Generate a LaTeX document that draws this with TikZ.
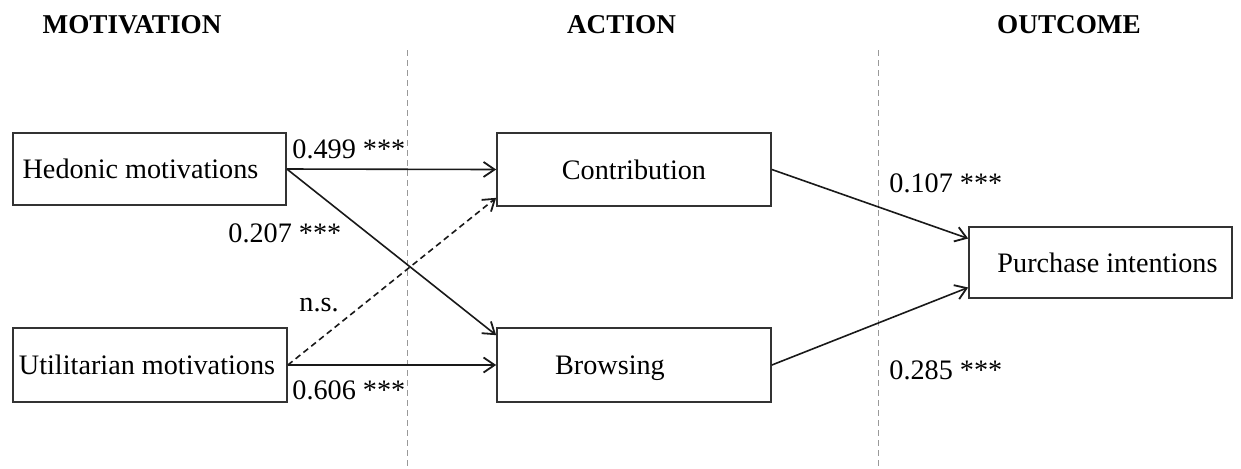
\documentclass[tikz,border=0pt]{standalone}
\usepackage{fontspec}
\setmainfont{Liberation Serif}
\usetikzlibrary{arrows.meta,calc,shadows}
\begin{document}
\begin{tikzpicture}[x=0.5pt,y=-0.5pt,
  box/.style={draw=black!80, line width=0.85pt, fill=white, inner sep=0pt,
    font=\fontsize{14.1}{16}\selectfont, text height=9.6pt, text depth=0pt,
    drop shadow={shadow xshift=0.6pt, shadow yshift=-0.6pt, opacity=0.35, fill=black!60}},
  head/.style={font=\fontsize{13.6}{16}\selectfont\bfseries, inner sep=0pt},
  lab/.style={font=\fontsize{14.1}{16}\selectfont, inner sep=0pt, anchor=west},
  conn/.style={line width=0.8pt, black!90, -{Straight Barb[length=5.5pt,width=7.5pt,line width=0.9pt]}},
  divider/.style={draw=black!40, line width=0.5pt, dash pattern=on 3pt off 2pt}]
\useasboundingbox (0,0) rectangle (1241,468);
\fill[white] (0,0) rectangle (1241,468);

% column dividers
\coordinate (d1t) at (407,50);
\coordinate (d1b) at (407,468);
\coordinate (d2t) at (878,50);
\coordinate (d2b) at (878,468);
\draw[divider] (d1t) -- (d1b);
\draw[divider] (d2t) -- (d2b);

% headers
\node[head] (hm) at (132,25) {MOTIVATION};
\node[head] (ha) at (621.5,25) {ACTION};
\node[head] (ho) at (1069,25) {OUTCOME};

% boxes
\node[box, minimum width=136.5pt, minimum height=36pt] (H) at (149.5,169) {\hspace*{-9pt}Hedonic motivations};
\node[box, minimum width=137pt, minimum height=37pt] (U) at (150,365) {\hspace*{-3pt}Utilitarian motivations};
\node[box, minimum width=137pt, minimum height=36.5pt] (C) at (634,169.5) {Contribution};
\node[box, minimum width=137pt, minimum height=37pt] (B) at (634,365) {\hspace*{-24pt}Browsing};
\node[box, minimum width=131.5pt, minimum height=35.5pt] (P) at (1100.5,262.5) {\hspace*{7pt}Purchase intentions};

% connectors
\draw[conn] (H.east) -- (C.west);
\draw[conn] (H.east) -- ($(B.north west)+(0,8)$);
\draw[conn] (U.east) -- (B.west);
\draw[conn, dash pattern=on 3pt off 2pt] (U.east) -- ($(C.south west)+(0,-9)$);
\draw[conn] (C.east) -- ($(P.west)+(0,-24)$);
\draw[conn] (B.east) -- ($(P.west)+(0,25)$);

% labels
\node[lab] (l1) at (292,149) {0.499 ***};
\node[lab] (l2) at (228,233) {0.207 ***};
\node[lab] (l3) at (299,305) {n.s.};
\node[lab] (l4) at (292,390) {0.606 ***};
\node[lab] (l5) at (889,183) {0.107 ***};
\node[lab] (l6) at (889,370) {0.285 ***};
\end{tikzpicture}
\end{document}
